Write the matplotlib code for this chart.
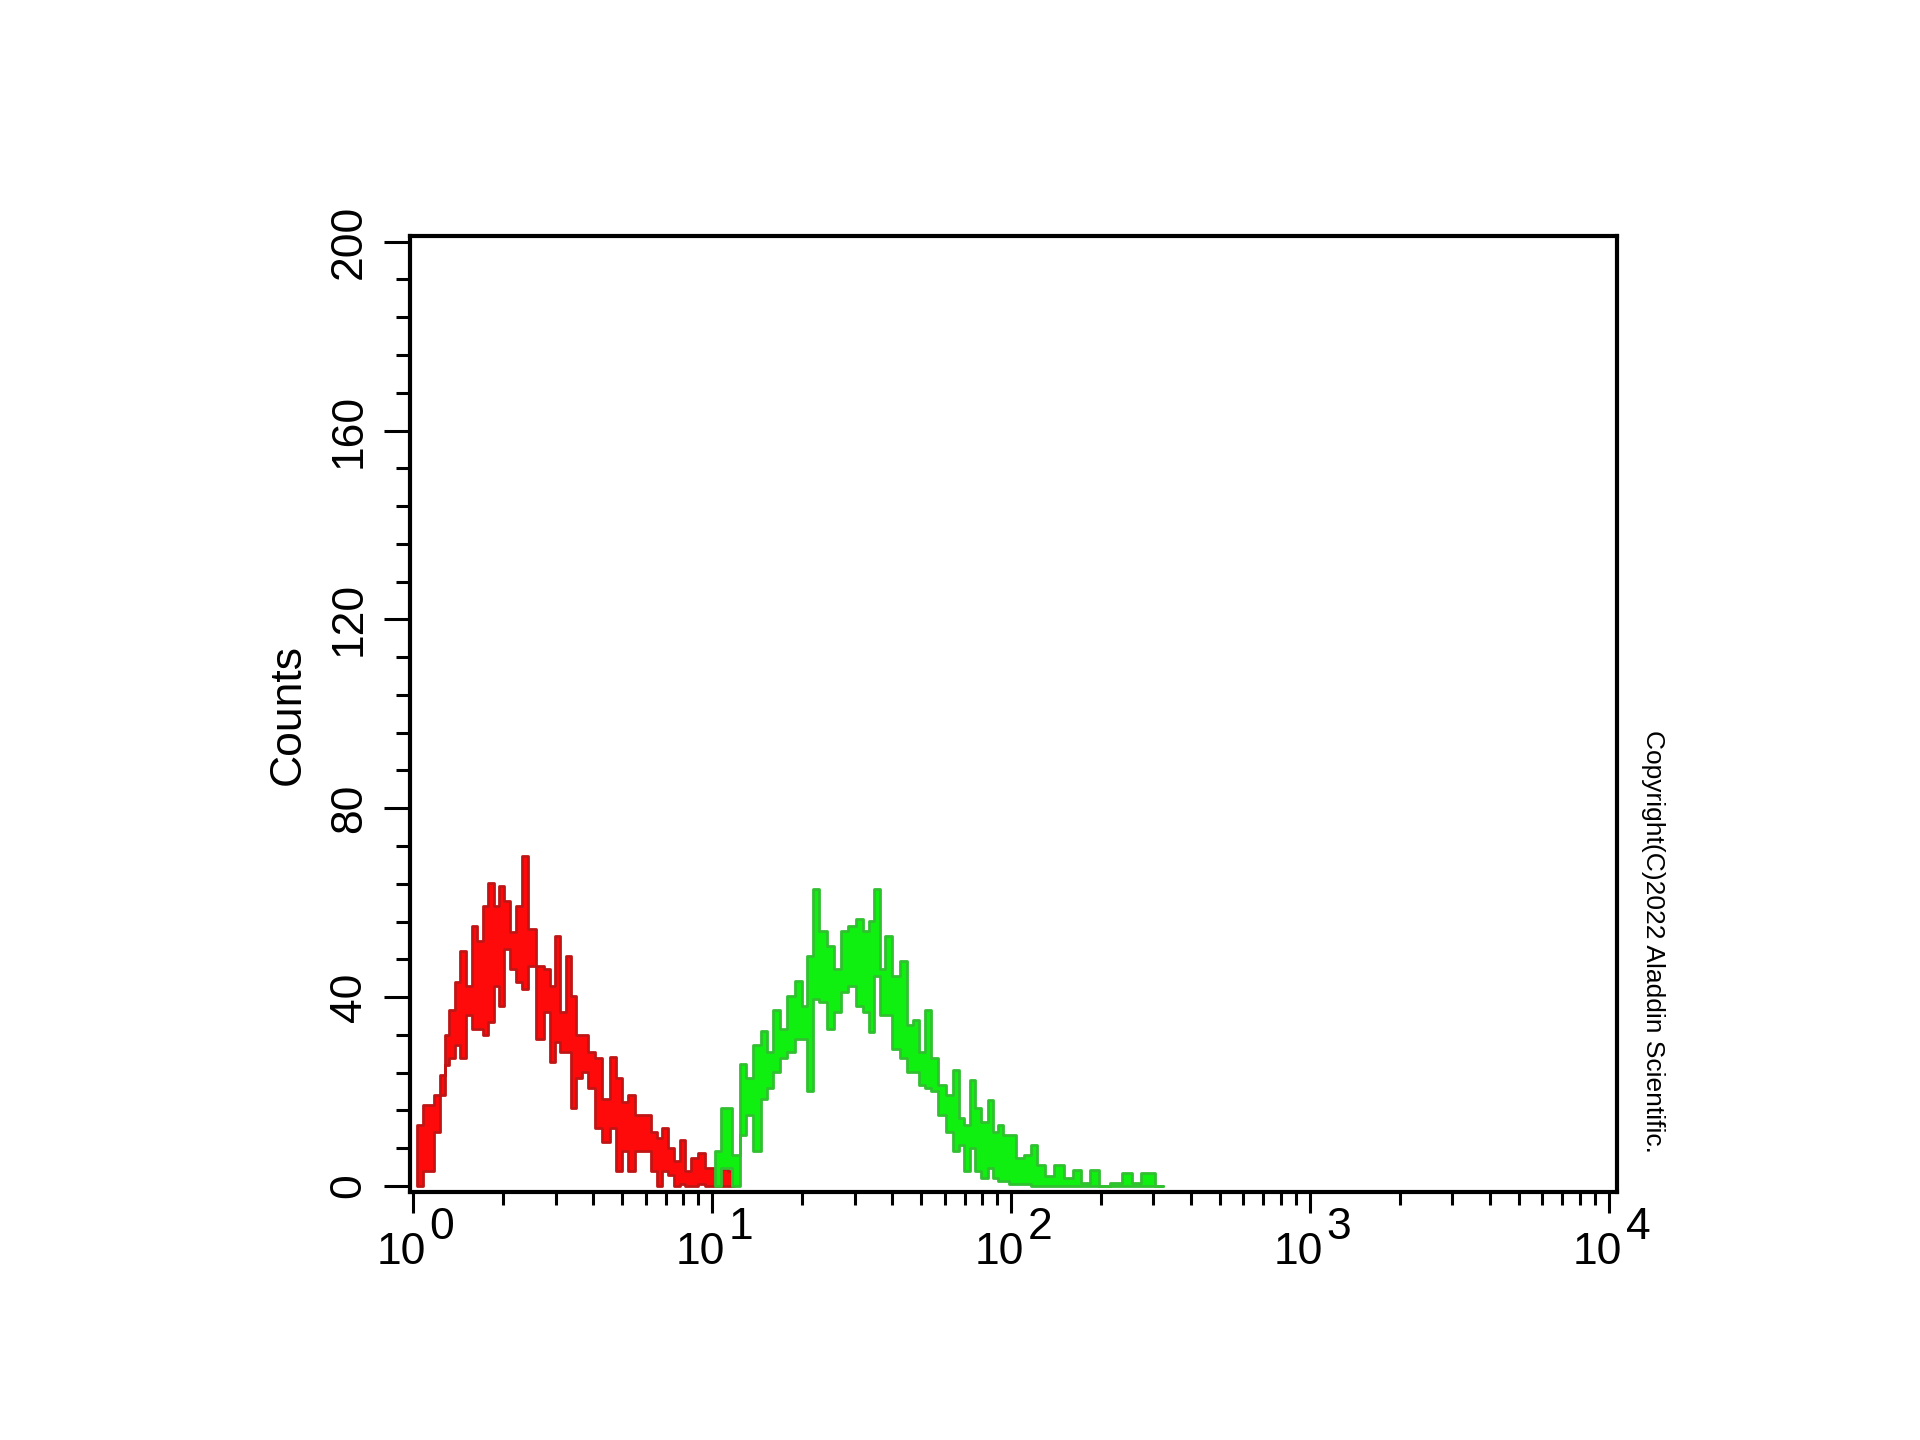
import matplotlib
matplotlib.use("Agg")
import matplotlib.pyplot as plt
from matplotlib.ticker import FixedLocator, LogLocator, NullFormatter

# red histogram (isotype control): channel value, upper and lower edge of the noisy trace
red_x = [1.03, 1.136, 1.210, 1.258, 1.297, 1.350, 1.410, 1.473, 1.542, 1.602,
         1.672, 1.751, 1.828, 1.899, 1.973, 2.066, 2.158, 2.259, 2.359, 2.500,
         2.678, 2.818, 2.928, 3.042, 3.184, 3.325, 3.454, 3.589, 3.757, 3.954,
         4.162, 4.435, 4.690, 4.873, 5.101, 5.366, 5.719, 6.095, 6.414, 6.698,
         6.960, 7.286, 7.664, 7.962, 8.272, 8.702, 9.207, 9.811, 10.81, 11.88]
red_hi = [12.9, 17.1, 19.2, 23.5, 31.9, 37.2, 43.1, 49.8, 42.4, 55.1,
          51.9, 59.3, 64.2, 59.3, 63.5, 60.3, 53.7, 59.3, 69.8, 54.4,
          46.6, 45.9, 42.4, 53.0, 36.8, 48.7, 40.3, 31.9, 31.9, 28.4,
          27.0, 18.5, 27.3, 22.8, 17.8, 19.2, 15.0, 15.0, 11.5, 10.1,
          12.2, 8.0, 5.2, 9.8, 3.1, 5.9, 7.0, 3.8, 3.5, 3.1]
red_lo = [0.0, 3.1, 11.5, 19.2, 25.6, 27.0, 29.8, 27.0, 36.1, 33.3,
          33.3, 31.9, 34.7, 42.4, 38.2, 50.2, 45.9, 43.1, 41.7, 46.6,
          31.2, 36.8, 26.3, 30.5, 28.4, 28.4, 16.4, 22.8, 24.2, 20.7,
          12.2, 9.4, 12.2, 3.1, 7.3, 3.1, 7.3, 7.3, 3.1, 0.0,
          3.1, 2.4, 0.0, 0.3, 0.0, 0.0, 0.3, 0.0, 0.0, 0.0]

# green histogram (antibody stained)
green_x = [10.27, 11.17, 12.12, 12.69, 13.35, 14.19, 14.94, 15.63, 16.45, 17.31,
           18.45, 19.51, 20.42, 21.33, 22.16, 23.49, 25.04, 26.34, 27.72, 29.54,
           31.25, 32.72, 34.15, 35.76, 37.34, 38.80, 41.14, 43.84, 46.13, 48.15,
           50.41, 52.65, 55.12, 58.73, 62.60, 65.35, 68.42, 71.46, 74.23, 77.70,
           81.77, 85.34, 88.68, 92.15, 96.47, 100.8, 106.9, 113.9, 119.0, 125.1,
           134.4, 145.0, 156.6, 166.8, 177.8, 189.5, 204.5, 226.4, 245.7, 263.8,
           282.6, 323.5]
green_hi = [7.3, 16.4, 6.6, 25.9, 22.8, 29.8, 32.9, 28.4, 37.2, 33.3,
            40.3, 43.5, 38.2, 48.8, 62.8, 54.0, 50.9, 45.9, 54.0, 55.1,
            56.5, 54.0, 56.1, 62.8, 45.9, 53.0, 44.5, 47.7, 34.0, 35.1,
            28.4, 37.2, 27.0, 21.3, 19.2, 24.5, 14.3, 12.9, 22.4, 16.4,
            13.6, 18.2, 11.5, 12.9, 10.8, 10.8, 5.9, 6.6, 8.7, 4.5,
            2.0, 4.5, 1.7, 3.4, 0.6, 3.4, 0.0, 0.6, 2.7, 0.6,
            2.7, 0.0]
green_lo = [0.0, 3.8, 0.0, 10.8, 15.0, 7.3, 18.5, 20.7, 24.2, 27.0,
            28.4, 31.2, 31.2, 20.0, 39.6, 38.9, 33.3, 36.8, 41.0, 42.4,
            38.2, 36.8, 32.6, 44.5, 36.1, 36.1, 29.1, 27.0, 24.2, 24.2,
            21.3, 20.7, 20.0, 15.0, 11.5, 7.3, 8.7, 3.1, 8.0, 3.1,
            1.7, 3.8, 1.7, 1.0, 1.0, 0.3, 0.3, 0.3, 0.0, 0.0,
            0.0, 0.0, 0.0, 0.0, 0.0, 0.0, 0.0, 0.0, 0.0, 0.0,
            0.0, 0.0]

y_ticks = [0, 40, 80, 120, 160, 200]
x_ticks = [1, 10, 100, 1000, 10000]
x_exponents = ["0", "1", "2", "3", "4"]

font = ["Liberation Sans", "DejaVu Sans"]

fig = plt.figure(figsize=(19.2, 14.4), dpi=100)
ax = fig.add_axes([0.2135, 0.1722, 0.6286, 0.6639])

ax.fill_between(red_x, red_lo, red_hi, step="mid", facecolor="#ff0a0a",
                edgecolor="#c01515", linewidth=2)
ax.fill_between(green_x, green_lo, green_hi, step="mid", facecolor="#10f010",
                edgecolor="#30c030", linewidth=2)

ax.set_xscale("log")
ax.set_xlim(10 ** -0.01, 10 ** 4.027)
ax.set_ylim(-1.3, 201.2)

for s in ax.spines.values():
    s.set_linewidth(3)

ax.yaxis.set_major_locator(FixedLocator(y_ticks))
ax.yaxis.set_minor_locator(FixedLocator(list(range(0, 201, 8))))
ax.set_yticklabels([str(v) for v in y_ticks], rotation=90, va="center",
                   family=font, fontsize=32)
ax.tick_params(axis="y", which="major", length=19, width=2.2, pad=10)
ax.tick_params(axis="y", which="minor", length=10, width=2.2)

# x labels drawn as "10" plus a full-size raised exponent, like the original
ax.xaxis.set_major_locator(FixedLocator(x_ticks))
ax.xaxis.set_minor_locator(LogLocator(base=10, subs=range(2, 10), numticks=20))
ax.xaxis.set_minor_formatter(NullFormatter())
ax.set_xticklabels([""] * len(x_ticks))
ax.tick_params(axis="x", which="major", length=15, width=2.2)
ax.tick_params(axis="x", which="minor", length=9, width=2.2)
for xt, ex in zip(x_ticks, x_exponents):
    ax.annotate("10", xy=(xt, 0), xycoords=("data", "axes fraction"),
                xytext=(-8, -52), textcoords="offset points",
                ha="center", va="baseline", family=font, fontsize=32,
                annotation_clip=False)
    ax.annotate(ex, xy=(xt, 0), xycoords=("data", "axes fraction"),
                xytext=(21, -34), textcoords="offset points",
                ha="center", va="baseline", family=font, fontsize=32,
                annotation_clip=False)

ax.set_ylabel("Counts", family=font, fontsize=32, labelpad=14)

fig.text(0.861, 0.3465, "Copyright(C)2022 Aladdin Scientific.", rotation=-90,
         ha="center", va="center", family=font, fontsize=19)

fig.savefig("out.png", dpi=100, facecolor="white")
